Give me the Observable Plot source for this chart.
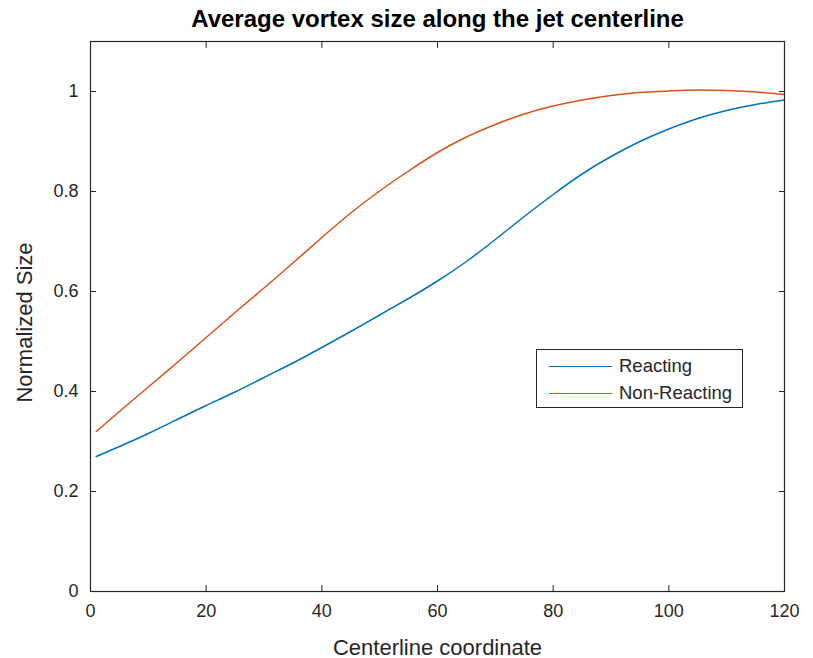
<!DOCTYPE html>
<html>
<head>
<meta charset="utf-8">
<script src="https://cdn.jsdelivr.net/npm/d3@7"></script>
<script src="https://cdn.jsdelivr.net/npm/@observablehq/plot@0.6"></script>
<style>
  html, body { margin: 0; padding: 0; background: #fff; }
  #wrap { position: relative; width: 813px; height: 658px; font-family: "Liberation Sans", Arial, sans-serif; }
  #legend { position: absolute; left: 536px; top: 349px; width: 207px; height: 59px; border: 1px solid #262626; background: #fff; box-sizing: border-box; font-size: 18.5px; line-height: 22px; color: #262626; }
  .row { position: absolute; left: 12px; display: flex; align-items: center; height: 22px; }
  .sw { width: 63px; height: 0; border-top: 1.5px solid; margin-right: 7px; }
</style>
</head>
<body>
<div id="wrap"></div>
<script>
const xCoord = [1, 5, 10, 15, 20, 25, 30, 35, 40, 45, 50, 55, 60, 65, 70, 75, 80, 85, 90, 95, 100, 105, 110, 115, 120];
const reacting = [0.270, 0.290, 0.316, 0.344, 0.372, 0.399, 0.428, 0.457, 0.488, 0.520, 0.553, 0.586, 0.621, 0.660, 0.704, 0.750, 0.794, 0.835, 0.870, 0.900, 0.925, 0.946, 0.962, 0.974, 0.983];
const nonReacting = [0.320, 0.360, 0.409, 0.458, 0.508, 0.558, 0.607, 0.657, 0.708, 0.757, 0.801, 0.841, 0.878, 0.909, 0.934, 0.955, 0.971, 0.983, 0.992, 0.998, 1.001, 1.003, 1.002, 0.999, 0.994];
const seriesNames = ["Reacting", "Non-Reacting"];
const seriesColors = ["#0072BD", "#D95319"];
const xTicks = [0, 20, 40, 60, 80, 100, 120];
const yTicks = [0, 0.2, 0.4, 0.6, 0.8, 1];
const titleText = "Average vortex size along the jet centerline";
const xLabel = "Centerline coordinate";
const yLabel = "Normalized Size";

const rows = [];
xCoord.forEach((x, i) => {
  rows.push({x, y: reacting[i], s: seriesNames[0]});
  rows.push({x, y: nonReacting[i], s: seriesNames[1]});
});

const axisColor = "#262626";
const plot = Plot.plot({
  width: 813,
  height: 658,
  marginLeft: 90,
  marginRight: 29,
  marginTop: 41,
  marginBottom: 67,
  style: {fontFamily: "'Liberation Sans', Arial, sans-serif", color: axisColor, background: "#fff"},
  x: {domain: [0, 120]},
  y: {domain: [0, 1.1]},
  color: {domain: seriesNames, range: seriesColors},
  marks: [
    Plot.axisX({ticks: xTicks, tickSize: -6, tickPadding: 19, fontSize: 18, label: null, stroke: axisColor}),
    Plot.axisX({anchor: "top", ticks: xTicks, tickSize: -6, tickFormat: () => "", label: null, stroke: axisColor}),
    Plot.axisY({ticks: yTicks, tickSize: -6, tickPadding: 18, fontSize: 18, label: null, tickFormat: d => String(d), stroke: axisColor}),
    Plot.axisY({anchor: "right", ticks: yTicks, tickSize: -6, tickFormat: () => "", label: null, stroke: axisColor}),
    Plot.line(rows, {x: "x", y: "y", z: "s", stroke: "s", strokeWidth: 1.5, curve: "natural"}),
    Plot.frame({stroke: axisColor, strokeWidth: 1.2}),
    Plot.text([titleText], {frameAnchor: "top", textAnchor: "middle", dy: -15, lineAnchor: "bottom", text: d => d, fontSize: 24, fontWeight: "bold", fill: "#000"}),
    Plot.text([xLabel], {frameAnchor: "bottom", textAnchor: "middle", dy: 63, text: d => d, fontSize: 22, fill: axisColor}),
    Plot.text([yLabel], {frameAnchor: "left", textAnchor: "middle", dx: -66, dy: 6, rotate: -90, text: d => d, fontSize: 22, fill: axisColor})
  ]
});
const wrap = document.getElementById("wrap");
wrap.appendChild(plot);

const legend = document.createElement("div");
legend.id = "legend";
seriesNames.forEach((name, i) => {
  const row = document.createElement("div");
  row.className = "row";
  row.style.top = (i === 0 ? 5 : 32) + "px";
  const sw = document.createElement("div");
  sw.className = "sw";
  sw.style.borderColor = seriesColors[i];
  const t = document.createElement("span");
  t.textContent = name;
  row.appendChild(sw);
  row.appendChild(t);
  legend.appendChild(row);
});
wrap.appendChild(legend);
</script>
</body>
</html>
